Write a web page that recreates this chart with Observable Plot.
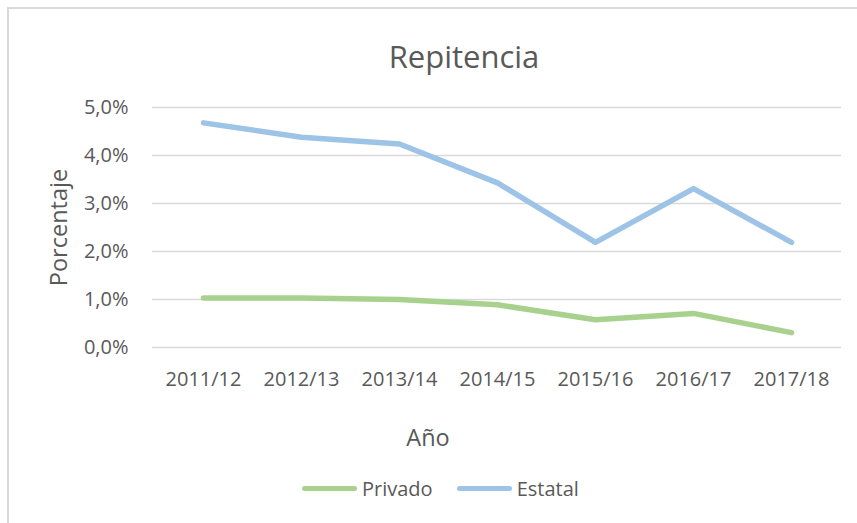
<!DOCTYPE html>
<html>
<head>
<meta charset="utf-8">
<script src="https://cdn.jsdelivr.net/npm/d3@7"></script>
<script src="https://cdn.jsdelivr.net/npm/@observablehq/plot@0.6"></script>
<style>
  html, body { margin: 0; padding: 0; background: #fff; }
  body { font-family: "Open Sans", sans-serif; color: #595959; }
  #wrap { position: relative; width: 857px; height: 523px; overflow: hidden; }
  #frame { position: absolute; left: 7px; top: 7px; width: 1000px; height: 1000px;
           border-top: 2px solid #d9d9d9; border-left: 2px solid #d9d9d9; box-sizing: border-box; }
  #title { position: absolute; left: 0; width: 928px; top: 36px; text-align: center;
           font-size: 31px; line-height: 40px; color: #595959; }
  #chart { position: absolute; left: 0; top: 90px; }
  #legend { position: absolute; left: 302px; top: 472px; height: 32px; display: flex; align-items: center;
            font-size: 20px; color: #595959; }
  .sw { width: 55px; height: 5px; border-radius: 3px; margin-right: 5px; }
  .item { display: flex; align-items: center; }
</style>
</head>
<body>
<div id="wrap">
  <div id="frame"></div>
  <div id="title">Repitencia</div>
  <div id="chart"></div>
  <div id="legend"></div>
</div>
<script>
const years = ["2011/12", "2012/13", "2013/14", "2014/15", "2015/16", "2016/17", "2017/18"];
const privado = [1.03, 1.03, 1.00, 0.89, 0.58, 0.71, 0.31];
const estatal = [4.68, 4.38, 4.24, 3.43, 2.19, 3.31, 2.19];
const yTicks = [0, 1, 2, 3, 4, 5];
const seriesNames = ["Privado", "Estatal"];
const seriesColors = ["#A9D18E", "#9DC3E6"];

const rows = [];
years.forEach((y, i) => {
  rows.push({year: y, serie: "Privado", value: privado[i]});
  rows.push({year: y, serie: "Estatal", value: estatal[i]});
});

const fmt = d => d.toFixed(1).replace(".", ",") + "%";

const chart = Plot.plot({
  width: 857,
  height: 370,
  marginTop: 17,
  marginBottom: 113,
  marginLeft: 152,
  marginRight: 16,
  style: {fontFamily: "'Open Sans', sans-serif", fontSize: "20px", color: "#595959", background: "transparent"},
  x: {type: "point", domain: years, padding: 0.5, label: null},
  y: {domain: [0, 5], label: null},
  color: {domain: seriesNames, range: seriesColors},
  marks: [
    Plot.ruleY(yTicks, {stroke: "#d9d9d9", strokeWidth: 1.5}),
    Plot.axisX({tickSize: 0, tickPadding: 24, label: null, fill: "#595959", fontSize: 20}),
    Plot.axisY({ticks: yTicks, tickFormat: fmt, tickSize: 0, tickPadding: 24, label: null, fill: "#595959", fontSize: 20}),
    Plot.lineY(rows, {x: "year", y: "value", z: "serie", stroke: "serie", strokeWidth: 5.5,
      strokeLinecap: "round", strokeLinejoin: "round"}),
    Plot.text(["Porcentaje"], {frameAnchor: "left", rotate: -90, dx: -93, fill: "#595959", fontSize: 23.5, lineAnchor: "middle", textAnchor: "middle"}),
    Plot.text(["Año"], {frameAnchor: "bottom", dx: -69, dy: 91, fill: "#595959", fontSize: 23.5, lineAnchor: "middle", textAnchor: "middle"})
  ]
});
document.getElementById("chart").appendChild(chart);

const legend = document.getElementById("legend");
seriesNames.forEach((name, i) => {
  const item = document.createElement("div");
  item.className = "item";
  if (i > 0) item.style.marginLeft = "24px";
  const sw = document.createElement("div");
  sw.className = "sw";
  sw.style.background = seriesColors[i];
  const lb = document.createElement("span");
  lb.textContent = name;
  item.appendChild(sw);
  item.appendChild(lb);
  legend.appendChild(item);
});
</script>
</body>
</html>
